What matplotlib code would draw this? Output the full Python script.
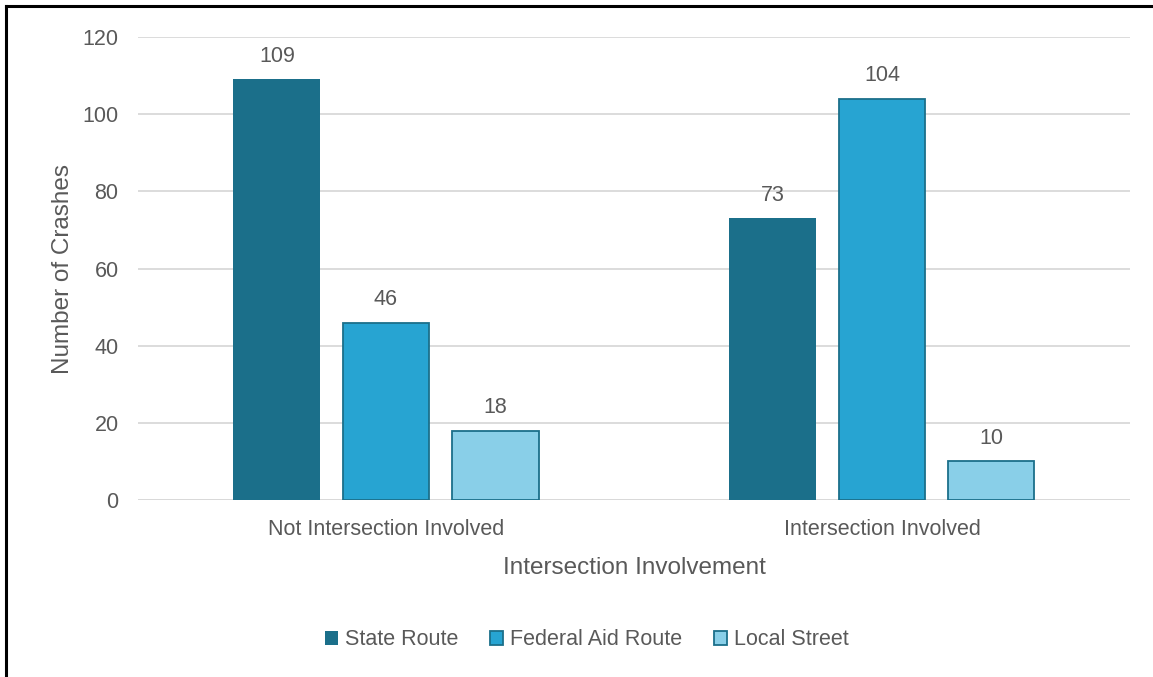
import matplotlib
matplotlib.use("Agg")
import matplotlib.pyplot as plt
import numpy as np
from matplotlib.lines import Line2D
from matplotlib.patches import Patch

categories = ["Not Intersection Involved", "Intersection Involved"]
series_names = ["State Route", "Federal Aid Route", "Local Street"]
state_route = [109, 73]
federal_aid = [46, 104]
local_street = [18, 10]
yticks = [0, 20, 40, 60, 80, 100, 120]

colors = ["#1B6F8A", "#27A4D2", "#89CFE8"]
edges = ["#1B6F8A", "#1B6F8A", "#1B6F8A"]
txt = "#595959"
plt.rcParams['font.family'] = ['Liberation Sans', 'DejaVu Sans']

fig = plt.figure(figsize=(11.53, 6.77), dpi=100)
ax = fig.add_axes([0.1197, 0.2614, 0.8603, 0.6839])

x = np.arange(len(categories))
w = 0.175
step = 0.22
data = [state_route, federal_aid, local_street]
for i, (vals, c, e, name) in enumerate(zip(data, colors, edges, series_names)):
    pos = x + (i - 1) * step
    lw = 0 if i == 0 else 1.3
    ax.bar(pos, vals, width=w, color=c, edgecolor=e, linewidth=lw, zorder=3, label=name)
    for p, v in zip(pos, vals):
        ax.text(p, v + 3.3, str(v), ha='center', va='bottom', fontsize=15.5, color=txt)

ax.set_xlim(-0.5, 1.5)
ax.set_ylim(0, 120)
ax.set_yticks(yticks)
ax.set_yticklabels([str(t) for t in yticks], fontsize=15.5, color=txt)
ax.set_xticks(x)
ax.set_xticklabels(categories, fontsize=15.5, color=txt)
ax.tick_params(axis='y', length=0, pad=14)
ax.tick_params(axis='x', length=0, pad=14)
ax.grid(axis='y', color='#D9D9D9', linewidth=1.3, zorder=0)
for s in ax.spines.values():
    s.set_visible(False)
ax.axhline(0, color='#D9D9D9', linewidth=1.3, zorder=1)

ax.set_ylabel("Number of Crashes", fontsize=17.5, color=txt, labelpad=6)
ax.set_xlabel("Intersection Involvement", fontsize=17.5, color=txt, labelpad=12)

handles = [Patch(facecolor=c, edgecolor=e, linewidth=(0 if i == 0 else 1.3)) for i, (c, e) in enumerate(zip(colors, edges))]
leg = fig.legend(handles, series_names, loc='center', bbox_to_anchor=(0.509, 0.055), ncol=3,
                 frameon=False, fontsize=15.5, handlelength=0.6, handleheight=0.6,
                 handletextpad=0.3, columnspacing=1.5)
for t in leg.get_texts():
    t.set_color(txt)

fig.add_artist(Line2D([0.0052, 0.0052], [0, 0.9905], color='black', linewidth=2.2, transform=fig.transFigure))
fig.add_artist(Line2D([0.0052, 1.0], [0.9905, 0.9905], color='black', linewidth=2.2, transform=fig.transFigure))

fig.savefig("out.png", dpi=100, facecolor='white')
